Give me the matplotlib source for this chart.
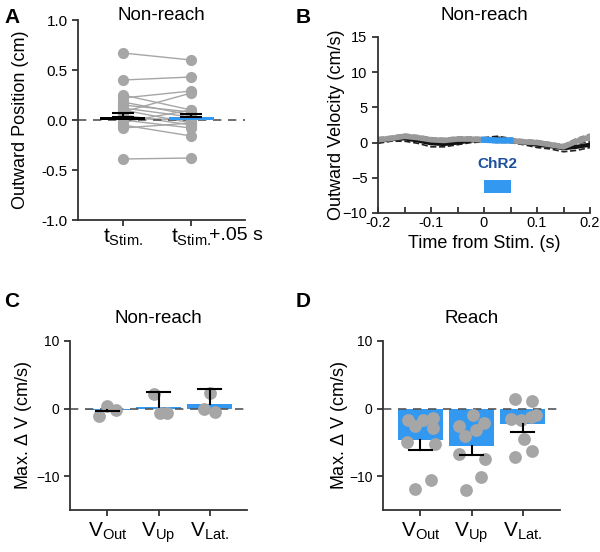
import numpy as np
import matplotlib
matplotlib.use("Agg")
import matplotlib.pyplot as plt

plt.rcParams['font.family'] = ['Liberation Sans', 'DejaVu Sans']
plt.rcParams['mathtext.fontset'] = 'custom'
plt.rcParams['mathtext.rm'] = 'Liberation Sans'

BLUE = '#3399f0'
GRAY = '#a6a6a6'
SPINE = '#333333'

# ---- panel A data: outward position (cm) at t_Stim. and t_Stim.+.05 s
pos_t0 = [0.67, 0.40, 0.25, 0.22, 0.18, 0.15, 0.12, 0.10, 0.08, 0.05, 0.02, 0.00, -0.02, -0.05, -0.08, -0.39]
pos_t1 = [0.60, 0.43, 0.10, 0.29, 0.05, 0.08, 0.03, -0.03, 0.27, -0.05, 0.00, -0.08, 0.10, -0.16, -0.03, -0.38]
pos_means = [0.03, 0.03]
pos_sems = [0.04, 0.03]
pos_labels = [r'$\mathregular{t_{Stim.}}$', r'$\mathregular{t_{Stim.}}$']
pos_suffix = '+.05 s'

# ---- panel B data: outward velocity (cm/s)
t = [-0.2, -0.175, -0.15, -0.125, -0.1, -0.075, -0.05, -0.025, 0.0, 0.025, 0.05,
     0.075, 0.1, 0.125, 0.15, 0.175, 0.2]
ctrl_mean = [0.2, 0.5, 0.6, 0.3, -0.1, -0.2, 0.0, 0.3, 0.4, 0.6, 0.3, 0.0, -0.3, -0.5, -0.8, -0.6, -0.3]
ctrl_sem = [0.3, 0.3, 0.4, 0.4, 0.5, 0.4, 0.3, 0.3, 0.3, 0.3, 0.3, 0.3, 0.4, 0.4, 0.5, 0.5, 0.4]
stim_mean = [0.4, 0.6, 0.9, 0.7, 0.4, 0.3, 0.5, 0.5, 0.4, 0.3, 0.3, 0.1, 0.0, -0.3, -0.6, 0.2, 0.8]
stim_sem = [0.3, 0.3, 0.3, 0.3, 0.3, 0.3, 0.3, 0.3, 0.3, 0.3, 0.3, 0.3, 0.3, 0.3, 0.3, 0.4, 0.4]
stim_on, stim_off = 0.0, 0.05

# ---- panels C/D data: max delta V (cm/s)
v_labels = [r'$\mathregular{V_{Out}}$', r'$\mathregular{V_{Up}}$', r'$\mathregular{V_{Lat.}}$']
nr_means = [-0.2, 0.2, 0.7]
nr_err = [-0.4, 2.4, 2.9]
nr_pts = [[-1.1, 0.4, -0.25], [-0.6, 2.1, -0.6], [0.0, 2.3, -0.5]]
nr_dx = [[-0.17, -0.01, 0.16], [0.02, -0.08, 0.16], [-0.12, 0.0, 0.1]]
r_means = [-4.7, -5.5, -2.3]
r_err = [-6.1, -6.8, -3.4]
r_pts = [[-1.7, -2.5, -1.7, -1.4, -2.9, -5.0, -5.3, -11.9, -10.5],
         [-1.0, -2.6, -3.1, -2.1, -4.1, -6.7, -7.4, -10.1, -12.0],
         [1.4, 1.1, -1.5, -1.7, -1.3, -0.9, -4.5, -7.1, -6.2]]
r_dx = [[-0.25, -0.1, 0.06, 0.25, 0.24, -0.27, 0.29, -0.11, 0.21],
        [0.03, -0.24, 0.08, 0.25, -0.12, -0.25, 0.27, 0.18, -0.11],
        [-0.15, 0.18, -0.22, -0.04, 0.16, 0.27, 0.02, -0.15, 0.18]]

W, H = 600, 552
fig = plt.figure(figsize=(6, 5.52), dpi=100)


def add_ax(l, r, top, bot):
    return fig.add_axes([l / W, 1 - bot / H, (r - l) / W, (bot - top) / H])


def style(ax):
    for s in ['top', 'right']:
        ax.spines[s].set_visible(False)
    for s in ['left', 'bottom']:
        ax.spines[s].set_color(SPINE)
        ax.spines[s].set_linewidth(1.3)
    ax.tick_params(color=SPINE, width=1.3, length=4, labelsize=11)


# ----- A
ax = add_ax(78, 245, 20, 220)
style(ax)
for a, b in zip(pos_t0, pos_t1):
    ax.plot([0, 1], [a, b], color=GRAY, lw=1, zorder=1)
ax.scatter(np.zeros(len(pos_t0)), pos_t0, s=65, color=GRAY, zorder=2, linewidths=0)
ax.scatter(np.ones(len(pos_t1)), pos_t1, s=65, color=GRAY, zorder=2, linewidths=0)
ax.axhline(0, color='#555555', ls=(0, (5, 4)), lw=1.2, zorder=1.5)
ax.bar([0, 1], pos_means, width=0.66, color=['black', BLUE], zorder=3)
ax.errorbar([0, 1], pos_means, yerr=[[0, 0], pos_sems], fmt='none', ecolor='black',
            capsize=8, elinewidth=1.5, capthick=1.5, zorder=4)
ax.set_xlim(-0.66, 1.79)
ax.set_ylim(-1.0, 1.0)
ax.set_yticks([-1.0, -0.5, 0.0, 0.5, 1.0])
ax.set_yticklabels(['-1.0', '-0.5', '0.0', '0.5', '1.0'])
ax.set_xticks([0, 1])
ax.set_xticklabels(pos_labels, fontsize=15)
ax.tick_params(axis='x', pad=1)
ax.text(1.26, -0.08, pos_suffix, fontsize=14, ha='left', va='center',
        transform=ax.get_xaxis_transform())
ax.set_ylabel('Outward Position (cm)', fontsize=13)
ax.yaxis.set_label_coords(-0.293, 0.5)
ax.set_title('Non-reach', fontsize=13.5, y=1.0, pad=0)

# ----- B
ax = add_ax(378, 590, 37, 213)
style(ax)
cm = np.array(ctrl_mean); cs = np.array(ctrl_sem)
sm = np.array(stim_mean); ss = np.array(stim_sem)
tt = np.array(t)
ax.plot(tt, cm + cs, color='#222222', ls='--', lw=1.2)
ax.plot(tt, cm - cs, color='#222222', ls='--', lw=1.2)
ax.plot(tt, sm + ss, color='#888888', ls='--', lw=1.2)
ax.plot(tt, sm - ss, color='#888888', ls='--', lw=1.2)
ax.plot(tt, cm, color='#111111', lw=3)
ax.plot(tt, sm, color='#999999', lw=4)
on = (tt >= stim_on) & (tt <= stim_off)
ax.plot(tt[on], sm[on], color=BLUE, lw=4.5)
ax.bar(stim_on, -1.8, bottom=-5.3, width=stim_off - stim_on, align='edge', color=BLUE)
ax.text((stim_on + stim_off) / 2, -4.1, 'ChR2', color='#1a4f9a', fontweight='bold',
        fontsize=11, ha='center', va='bottom')
ax.set_xlim(-0.2, 0.2)
ax.set_ylim(-10, 15)
ax.set_xticks([-0.2, -0.1, 0, 0.1, 0.2])
ax.set_xticklabels(['-0.2', '-0.1', '0', '0.1', '0.2'])
ax.set_xticks([-0.15, -0.05, 0.05, 0.15], minor=True)
ax.tick_params(labelsize=10.5)
ax.tick_params(axis='x', which='both', direction='in', color=SPINE, width=1.3, length=4, pad=2)
ax.set_yticks([-10, -5, 0, 5, 10, 15])
ax.set_xlabel('Time from Stim. (s)', fontsize=13)
ax.set_ylabel('Outward Velocity (cm/s)', fontsize=13)
ax.yaxis.set_label_coords(-0.156, 0.5)
ax.set_title('Non-reach', fontsize=13.5, y=1.0, pad=12)


# ----- C and D
def bar_panel(ax, means, err, pts, dx, title, lab_x):
    style(ax)
    x = np.arange(3)
    ax.bar(x, means, width=0.88, color=BLUE, zorder=1)
    for i in range(3):
        ax.scatter(i + np.array(dx[i]), pts[i], s=85, color=GRAY, linewidths=0, zorder=2)
        ax.plot([i, i], [means[i], err[i]], color='black', lw=1.5, zorder=3)
        ax.plot([i - 0.23, i + 0.23], [err[i], err[i]], color='black', lw=1.5, zorder=3)
    ax.axhline(0, color='#555555', ls=(0, (5, 4)), lw=1.2, zorder=1.5)
    ax.set_xlim(-0.73, 2.73)
    ax.set_ylim(-15, 10)
    ax.set_yticks([-10, 0, 10])
    ax.tick_params(axis='y', labelsize=10)
    ax.set_xticks(x)
    ax.set_xticklabels(v_labels, fontsize=15)
    ax.set_ylabel(r'Max. $\mathregular{\Delta}$ V (cm/s)', fontsize=13)
    ax.yaxis.set_label_coords(lab_x, 0.5)
    ax.set_title(title, fontsize=13.5, y=1.0, pad=13)


ax = add_ax(70, 247, 341, 510)
bar_panel(ax, nr_means, nr_err, nr_pts, nr_dx, 'Non-reach', -0.203)
ax = add_ax(383, 560, 341, 510)
bar_panel(ax, r_means, r_err, r_pts, r_dx, 'Reach', -0.186)

for lab, x, y in [('A', 4, 8), ('B', 296, 8), ('C', 4, 292), ('D', 296, 292)]:
    fig.text(x / W, 1 - y / H, lab, fontsize=15, fontweight='bold', va='top', ha='left')

fig.savefig('out.png', dpi=100)
